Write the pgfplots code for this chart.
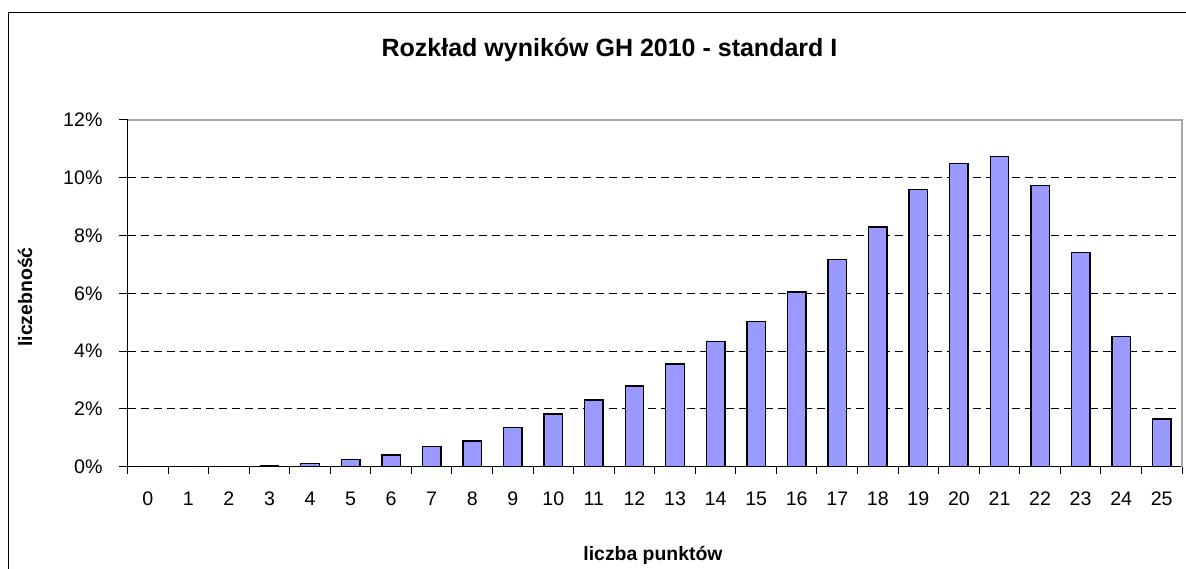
\documentclass[border=0pt]{standalone}
\usepackage{pgfplots}
\pgfplotsset{compat=1.18}
\usepackage{fontspec}
\setmainfont{Liberation Sans}
\definecolor{barfill}{HTML}{9999FF}
\begin{document}
\begin{tikzpicture}
\useasboundingbox (0,0) rectangle (593pt,284pt);
\draw[line width=0.6pt] (4.15pt,-2pt) -- (4.15pt,277.85pt) -- (595pt,277.85pt);
\node[font=\bfseries\fontsize{12.5}{14}\selectfont] at (304.75pt,259pt) {Rozkład wyników GH 2010 - standard I};
\begin{axis}[
  at={(63.75pt,50.65pt)}, anchor=south west,
  scale only axis, width=527.25pt, height=173.35pt,
  xmin=-0.5, xmax=25.5, ymin=0, ymax=12,
  axis x line*=bottom, axis y line*=left,
  axis line style={-, black, line width=0.5pt},
  ybar, bar width=0.456,
  xtick={0,...,25},
  xticklabels={0,1,2,3,4,5,6,7,8,9,10,11,12,13,14,15,16,17,18,19,20,21,22,23,24,25},
  minor xtick={-0.5,0.5,...,25.5},
  major x tick style={draw=none},
  minor x tick style={black, line width=0.5pt},
  ytick={0,2,...,12},
  yticklabels={0\%,2\%,4\%,6\%,8\%,10\%,12\%},
  major y tick style={black, line width=0.5pt},
  tick align=outside,
  major tick length=4pt, minor tick length=3.5pt,
  ymajorgrids,
  major grid style={black, line width=0.45pt, dash pattern=on 4pt off 2.5pt},
  tick label style={font=\fontsize{9.8}{11}\selectfont},
  xticklabel style={yshift=-5pt},
  yticklabel style={xshift=-5pt},
  xlabel={liczba punktów},
  ylabel={liczebność},
  label style={font=\bfseries\fontsize{9.7}{11}\selectfont},
  xlabel style={at={(axis description cs:0.4983,-0.2547)}, anchor=center},
  ylabel style={at={(axis description cs:-0.0972,0.4895)}, anchor=center},
  after end axis/.code={\draw[gray!70, line width=0.7pt] (rel axis cs:0,1) -- (rel axis cs:1,1) -- (rel axis cs:1,0);},
]
\addplot[fill=barfill, draw=black, line width=0.7pt] coordinates {
(0,0) (1,0) (2,0) (3,0.05) (4,0.11) (5,0.24) (6,0.41) (7,0.70) (8,0.89) (9,1.36)
(10,1.83) (11,2.31) (12,2.79) (13,3.56) (14,4.33) (15,5.03) (16,6.04) (17,7.18)
(18,8.30) (19,9.60) (20,10.50) (21,10.74) (22,9.73) (23,7.41) (24,4.50) (25,1.65)
};
\end{axis}
\end{tikzpicture}
\end{document}
